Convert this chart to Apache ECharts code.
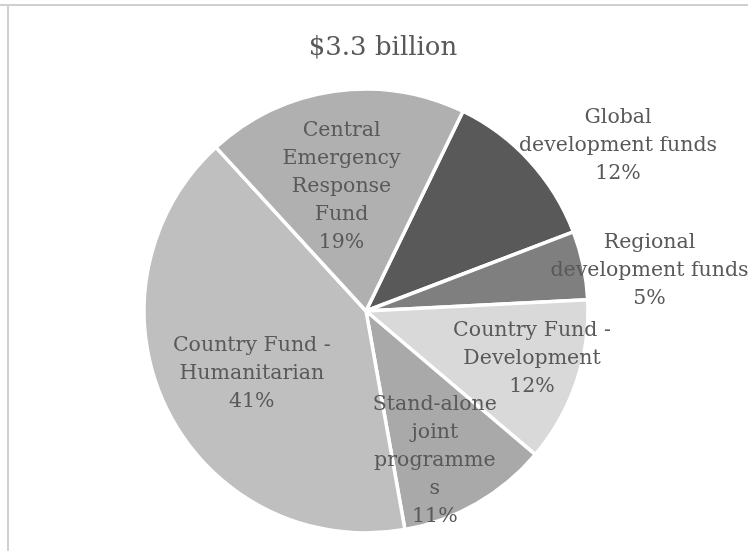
<!DOCTYPE html>
<html>
<head>
<meta charset="utf-8">
<script src="https://cdn.jsdelivr.net/npm/echarts@6/dist/echarts.min.js"></script>
<style>
  html, body { margin: 0; padding: 0; background: #ffffff; }
  #chart { width: 748px; height: 551px; }
</style>
</head>
<body>
<div id="chart"></div>
<script>
// Funding sources, clockwise from the top-right slice
const categories = [
  'Global\ndevelopment funds',
  'Regional\ndevelopment funds',
  'Country Fund -\nDevelopment',
  'Stand-alone\njoint\nprogramme\ns',
  'Country Fund -\nHumanitarian',
  'Central\nEmergency\nResponse\nFund'
];
const shares = [12, 5, 12, 11, 41, 19];
const sliceColors = ['#595959', '#7f7f7f', '#d9d9d9', '#a9a9a9', '#bfbfbf', '#b0b0b0'];
const titleText = '$3.3 billion';

// Label nudges away from the default mid-radius spot
const labelShift = [
  [168, -88],
  [172, -17],
  [58, 11],
  [12, 51],
  [-12, 12],
  [-8, -12]
];

const chart = echarts.init(document.getElementById('chart'), null, { renderer: 'canvas' });

chart.setOption({
  backgroundColor: '#ffffff',
  animation: false,
  title: {
    text: titleText,
    left: 378,
    top: 30,
    textAlign: 'center',
    textStyle: {
      fontFamily: 'DejaVu Serif',
      fontSize: 26,
      fontWeight: 'normal',
      color: '#595959'
    }
  },
  graphic: [
    { type: 'line', shape: { x1: 0, y1: 5, x2: 748, y2: 5 }, style: { stroke: '#d0d0d0', lineWidth: 2 } },
    { type: 'line', shape: { x1: 8, y1: 5, x2: 8, y2: 551 }, style: { stroke: '#d0d0d0', lineWidth: 2 } }
  ],
  series: [{
    type: 'pie',
    center: [366, 311],
    radius: 222,
    startAngle: 64.1,
    clockwise: true,
    percentPrecision: 0,
    data: categories.map((name, i) => ({
      name: name,
      value: shares[i],
      itemStyle: { color: sliceColors[i] }
    })),
    itemStyle: { borderColor: '#ffffff', borderWidth: 3.5 },
    label: {
      show: true,
      position: 'inside',
      formatter: '{b}\n{d}%',
      fontFamily: 'DejaVu Serif',
      fontSize: 20.5,
      lineHeight: 28,
      color: '#595959',
      align: 'center'
    },
    labelLine: { show: false },
    emphasis: { disabled: true },
    labelLayout: function (params) {
      const s = labelShift[params.dataIndex];
      return { dx: s[0], dy: s[1] };
    }
  }]
});
</script>
</body>
</html>
